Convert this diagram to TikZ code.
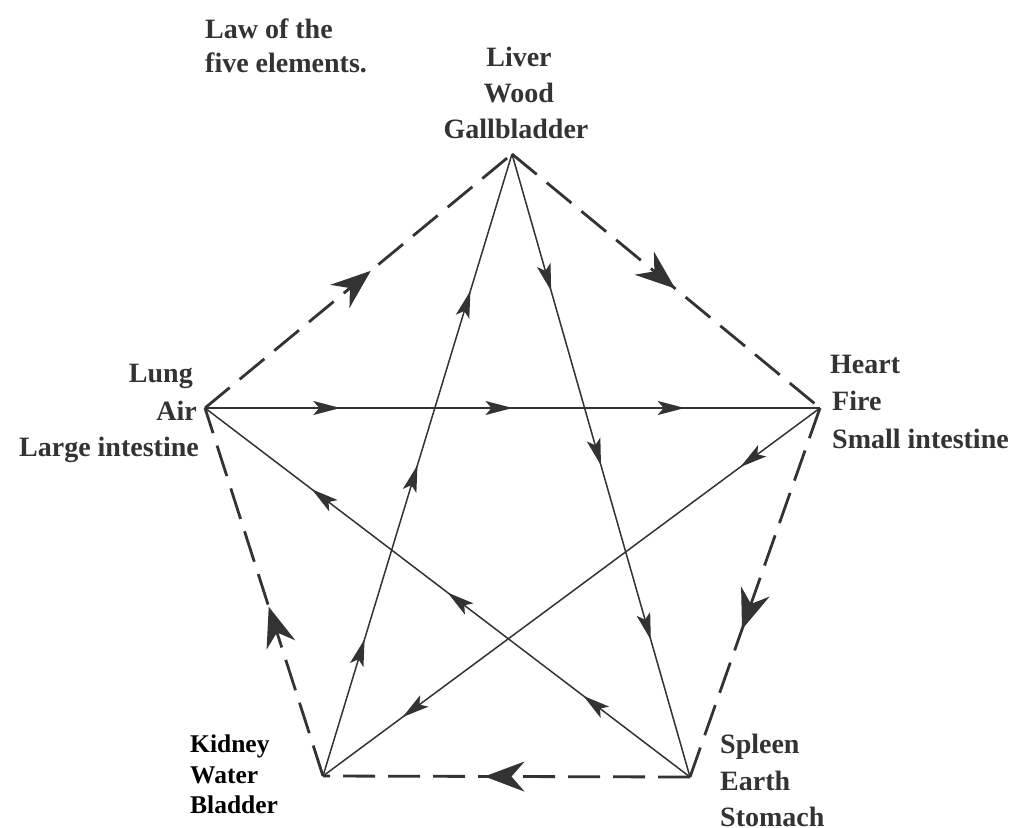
\documentclass[tikz,border=0pt]{standalone}
\usepackage{fontspec}
\setmainfont{Liberation Serif}
\usetikzlibrary{arrows.meta,decorations.markings}
\definecolor{ink}{HTML}{333333}
\begin{document}
\begin{tikzpicture}[x=1pt,y=-1pt,
  lab/.style={font=\fontsize{28}{36}\selectfont\bfseries, text=ink, inner sep=0pt},
  kid/.style={font=\fontsize{25.5}{31}\selectfont\bfseries, text=black, inner sep=0pt},
  outer/.style={draw=ink, line width=2.8pt, dash pattern=on 32pt off 13pt},
  star/.style={draw=ink, line width=1.5pt},
  bigarr/.style={postaction={decorate}, decoration={markings,
     mark=at position #1 with {\arrow{Stealth[length=40pt,width=30pt,inset=13pt]}}}},
  tri/.style={postaction={decorate}, decoration={markings,
     mark=at position 0.22 with {\arrow{Stealth[length=27pt,width=14pt,inset=6pt]}},
     mark=at position 0.5 with {\arrow{Stealth[length=27pt,width=14pt,inset=6pt]}},
     mark=at position 0.78 with {\arrow{Stealth[length=27pt,width=14pt,inset=6pt]}}}},
  duo/.style={postaction={decorate}, decoration={markings,
     mark=at position 0.16 with {\arrow{Stealth[length=27pt,width=14pt,inset=6pt]}},
     mark=at position 0.84 with {\arrow{Stealth[length=27pt,width=14pt,inset=6pt]}}}}
]
\fill[white] (0,0) rectangle (1017,827);
\useasboundingbox (0,0) rectangle (1017,827);

\coordinate (T) at (512,154);
\coordinate (L) at (205,408);
\coordinate (H) at (820,408);
\coordinate (K) at (323,776);
\coordinate (S) at (690,777);

% labels
\node[lab, anchor=base west] (law1) at (205,38) {Law of the};
\node[lab, anchor=base west] (law2) at (205,72) {five elements.};
\node[lab, anchor=base] (liver) at (519,66) {Liver};
\node[lab, anchor=base] (wood) at (519,102) {Wood};
\node[lab, anchor=base] (gall) at (516,138) {Gallbladder};
\node[lab, anchor=base east] (lung) at (193,382) {Lung};
\node[lab, anchor=base east] (air) at (197,420) {Air};
\node[lab, anchor=base east] (li) at (199,456) {Large intestine};
\node[lab, anchor=base west] (heart) at (830,373) {Heart};
\node[lab, anchor=base west] (fire) at (832,410) {Fire};
\node[lab, anchor=base west] (si) at (832,448) {Small intestine};
\node[kid, anchor=base west] (kidney) at (190,752) {Kidney};
\node[kid, anchor=base west] (water) at (190,783) {Water};
\node[kid, anchor=base west] (bladder) at (190,813) {Bladder};
\node[lab, anchor=base west] (spleen) at (720,753) {Spleen};
\node[lab, anchor=base west] (earth) at (720,790) {Earth};
\node[lab, anchor=base west] (stomach) at (720,826) {Stomach};

% star
\draw[star, tri] (L) -- (H);
\draw[star, tri] (T) -- (S);
\draw[star, tri] (K) -- (T);
\draw[star, tri] (S) -- (L);
\draw[star, duo] (H) -- (K);

% pentagon
\draw[outer, bigarr=0.54] (L) -- (T);
\draw[outer, bigarr=0.53] (T) -- (H);
\draw[outer, bigarr=0.6] (H) -- (S);
\draw[outer, bigarr=0.56] (S) -- (K);
\draw[outer, bigarr=0.46] (K) -- (L);
\end{tikzpicture}
\end{document}
